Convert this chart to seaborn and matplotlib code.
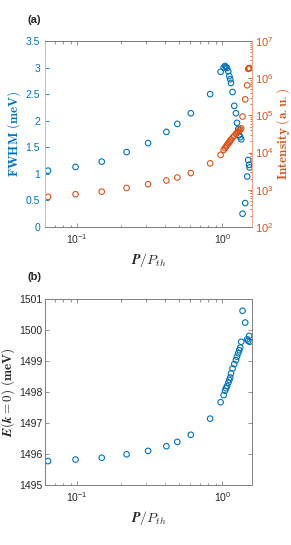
import numpy as np
import pandas as pd
import matplotlib
matplotlib.use("Agg")
import matplotlib.pyplot as plt
import seaborn as sns
from matplotlib.ticker import LogLocator, NullFormatter

sns.set_style("white")
plt.rcParams['font.family'] = ['Liberation Sans', 'DejaVu Sans']
plt.rcParams['mathtext.fontset'] = 'cm'
plt.rcParams['xtick.direction'] = 'in'
plt.rcParams['ytick.direction'] = 'in'

BLUE = '#0072BD'
ORANGE = '#D95319'
GRAY = '#808080'

# ---- data ----
power = [0.063, 0.0974, 0.1476, 0.219, 0.308, 0.4115, 0.4895, 0.6065, 0.824,
         0.973, 1.021, 1.043, 1.060, 1.077, 1.099, 1.117, 1.134, 1.147, 1.176,
         1.208, 1.241, 1.261, 1.287, 1.307, 1.328, 1.349, 1.378, 1.437, 1.483,
         1.506, 1.530, 1.542]
fwhm = [1.06, 1.13, 1.23, 1.41, 1.58, 1.79, 1.94, 2.14, 2.50,
        2.92, 3.00, 3.03, 3.01, 2.99, 2.93, 2.84, 2.78, 2.71, 2.54,
        2.28, 2.14, 1.96, 1.84, 1.73, 1.69, 1.65, 0.25, 0.45, 0.95,
        1.26, 1.17, 1.12]
log_intensity = [2.81, 2.88, 2.95, 3.05, 3.15, 3.25, 3.33, 3.45, 3.71,
                 3.94, 4.07, 4.12, 4.16, 4.20, 4.25, 4.28, 4.32, 4.35, 4.40,
                 4.45, 4.50, 4.53, 4.56, 4.59, 4.62, 4.65, 4.97, 5.43, 5.81,
                 6.25, 6.27, 6.27]
energy = [1495.77, 1495.82, 1495.88, 1495.99, 1496.10, 1496.25, 1496.39, 1496.62, 1497.14,
          1497.67, 1497.90, 1498.04, 1498.12, 1498.19, 1498.30, 1498.39, 1498.47, 1498.60, 1498.76,
          1498.90, 1499.03, 1499.14, 1499.25, 1499.35, 1499.43, 1499.62, 1500.62, 1500.24, 1499.70,
          1499.65, 1499.81, 1499.62]

df = pd.DataFrame({'P': power, 'FWHM': fwhm,
                   'I': np.power(10.0, log_intensity), 'E': energy})

fig = plt.figure(figsize=(2.91, 5.45), dpi=100)
ax1 = fig.add_axes([0.1546, 0.5835, 0.7113, 0.3413])
ax3 = fig.add_axes([0.1546, 0.1101, 0.7113, 0.3413])

mk = dict(s=16, facecolor='none', linewidth=0.8, marker='o', legend=False)

# ---- panel (a) ----
sns.scatterplot(data=df, x='P', y='FWHM', ax=ax1, edgecolor=BLUE, **mk)
ax1.set_xscale('log')
ax1.set_xlim(0.06, 1.6)
ax1.set_ylim(0, 3.5)
ax1.set_yticks([0, 0.5, 1, 1.5, 2, 2.5, 3, 3.5])
ax1.set_yticklabels(['0', '0.5', '1', '1.5', '2', '2.5', '3', '3.5'])
ax1.tick_params(axis='y', colors=BLUE, labelsize=7.5, length=3, width=0.6, left=True, right=False)
ax1.tick_params(axis='x', which='both', colors=GRAY, labelcolor='#333333', labelsize=7.5,
                top=True, bottom=True, width=0.6)
ax1.tick_params(axis='x', which='major', length=3)
ax1.tick_params(axis='x', which='minor', length=1.8)
ax1.set_ylabel(r'$\mathbf{FWHM\ (meV)}$', color=BLUE, fontsize=9.5, labelpad=2)
ax1.set_xlabel(r'$\boldsymbol{P/P_{th}}$', color='#262626', fontsize=10, labelpad=4)

ax2 = ax1.twinx()
sns.scatterplot(data=df, x='P', y='I', ax=ax2, edgecolor=ORANGE, **mk)
ax2.set_yscale('log')
ax2.set_ylim(1e2, 1e7)
ax2.yaxis.set_major_locator(LogLocator(base=10, numticks=10))
ax2.yaxis.set_minor_locator(LogLocator(base=10, subs=np.arange(2, 10), numticks=10))
ax2.yaxis.set_minor_formatter(NullFormatter())
ax2.tick_params(axis='y', which='both', colors=ORANGE, labelsize=8, width=0.6, right=True, left=False, pad=2)
ax2.tick_params(axis='y', which='major', length=3)
ax2.tick_params(axis='y', which='minor', length=1.8)
ax2.set_ylabel(r'$\mathbf{Intensity\ (a.u.)}$', color=ORANGE, fontsize=9.5, labelpad=1)
ax2.set_xlim(0.06, 1.6)

for ax in (ax1, ax2):
    ax.spines['top'].set_color(GRAY)
    ax.spines['bottom'].set_color(GRAY)
    ax.spines['left'].set_color('#9cc8ea')
    ax.spines['right'].set_color('#f0a88a')
    for s in ax.spines.values():
        s.set_linewidth(0.7)

# ---- panel (b) ----
sns.scatterplot(data=df, x='P', y='E', ax=ax3, edgecolor=BLUE, **mk)
ax3.set_xscale('log')
ax3.set_xlim(0.06, 1.6)
ax3.set_ylim(1495, 1501)
ax3.set_yticks([1495, 1496, 1497, 1498, 1499, 1500, 1501])
ax3.set_yticklabels(['1495', '1496', '1497', '1498', '1499', '1500', '1501'])
ax3.tick_params(axis='both', which='both', colors=GRAY, labelcolor='#262626', labelsize=7.5,
                top=True, bottom=True, left=True, right=True, width=0.6)
ax3.tick_params(axis='y', pad=2)
ax3.tick_params(axis='both', which='major', length=3)
ax3.tick_params(axis='x', which='minor', length=1.8)
ax3.set_ylabel(r'$\boldsymbol{E(k=0)}\ \mathbf{(meV)}$', color='#262626', fontsize=9.5, labelpad=1)
ax3.set_xlabel(r'$\boldsymbol{P/P_{th}}$', color='#262626', fontsize=10, labelpad=4)
for s in ax3.spines.values():
    s.set_color(GRAY)
    s.set_linewidth(0.7)

for ax in (ax1, ax3):
    ax.xaxis.set_major_locator(LogLocator(base=10, numticks=10))
    ax.xaxis.set_minor_locator(LogLocator(base=10, subs=np.arange(2, 10), numticks=10))
    ax.xaxis.set_minor_formatter(NullFormatter())

fig.text(0.093, 0.963, '(a)', fontsize=8, fontweight='bold', ha='left', va='center')
fig.text(0.093, 0.492, '(b)', fontsize=8, fontweight='bold', ha='left', va='center')

fig.savefig('out.png', dpi=100)
